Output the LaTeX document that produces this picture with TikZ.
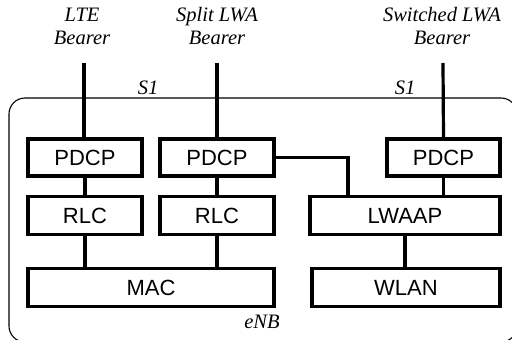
\documentclass[tikz,border=0pt]{standalone}
\usepackage{fontspec}
\setmainfont{Liberation Serif}
\newfontfamily\boxfont{Liberation Sans}
\usetikzlibrary{positioning}

\tikzset{
	layer/.style={draw, line width=3.2pt, inner sep=0pt, font=\boxfont\fontsize{22}{24}\selectfont},
	link/.style={line width=3.2pt},
	tag/.style={font=\itshape\fontsize{20.5}{23}\selectfont, align=center, inner sep=0pt}
}

\begin{document}
\begin{tikzpicture}[x=1pt, y=-1pt]
		\useasboundingbox (0,0) rectangle (512,340);
		\clip (0,0) rectangle (512,340);
		% eNB frame
		\draw[line width=1.1pt, rounded corners=16pt] (9,98) rectangle (517,342);
		
		% protocol layers
		\node[layer, minimum width=114pt, minimum height=37pt] (pdcpA) at (85,157.5) {PDCP};
		\node[layer, minimum width=114pt, minimum height=37pt] (pdcpB) at (217,157.5) {PDCP};
		\node[layer, minimum width=113pt, minimum height=37pt] (pdcpC) at (443.5,157.5) {PDCP};
		\node[layer, minimum width=114pt, minimum height=38pt] (rlcA) at (85,215.5) {RLC};
		\node[layer, minimum width=114pt, minimum height=38pt] (rlcB) at (217,215.5) {RLC};
		\node[layer, minimum width=190pt, minimum height=38pt] (lwaap) at (405,215.5) {LWAAP};
		\node[layer, minimum width=246pt, minimum height=38pt] (mac) at (151,287.5) {MAC};
		\node[layer, minimum width=188pt, minimum height=38pt] (wlan) at (406,287.5) {WLAN};
		
		% bearers
		\coordinate (lteTop) at (84,63);
		\coordinate (splitTop) at (217,63);
		\coordinate (switchTop) at (443,63);
		\coordinate (bend) at (348,158);
		
		\draw[link] (lteTop) -- (lteTop |- pdcpA.north);
		\draw[link] (splitTop) -- (pdcpB.north);
		\draw[link] (switchTop) -- (pdcpC.north);
		
		\draw[link] (pdcpA.south) -- (rlcA.north);
		\draw[link] (pdcpB.south) -- (rlcB.north);
		\draw[link] (pdcpC.south) -- (pdcpC.south |- lwaap.north);
		\draw[link] (pdcpB.east) -| (bend |- lwaap.north);
		\draw[link] (rlcA.south) -- (rlcA.south |- mac.north);
		\draw[link] (rlcB.south) -- (rlcB.south |- mac.north);
		\draw[link] (lwaap.south) -- (lwaap.south |- wlan.north);
		
		% labels
		\node[tag] (lteLabel) at (82,26) {LTE\\Bearer};
		\node[tag] (splitLabel) at (217,26) {Split LWA\\Bearer};
		\node[tag] (switchLabel) at (442,26) {Switched LWA\\Bearer};
		\node[tag] (sA) at (148,88) {S1};
		\node[tag] (sB) at (405,88) {S1};
		\node[tag] (enb) at (262,322) {eNB};
	\end{tikzpicture}
\end{document}
